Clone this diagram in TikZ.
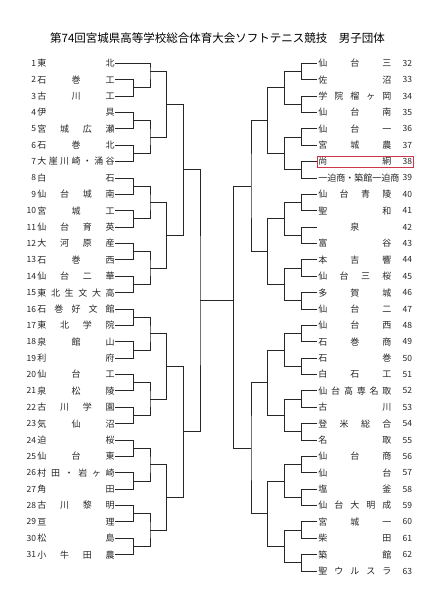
\documentclass[tikz,border=0pt]{standalone}
\usepackage{fontspec}
\newfontfamily\jp{Noto Sans CJK JP}
\usetikzlibrary{calc}
\definecolor{hlred}{RGB}{205,55,75}
\newcommand\mt[5]{%
  \path let \p1=(#2),\p2=(#3) in coordinate (#1) at (#4pt,{\y1+(\y2-\y1)*#5});
  \draw[bline] (#2) -| (#1) |- (#3);}
\begin{document}
\begin{tikzpicture}[x=1pt,y=-1pt,
  bline/.style={draw=black!85,line width=0.9pt},
  tname/.style={font=\jp\fontsize{9}{9}\selectfont,text=black!85,inner sep=0pt,anchor=west},
  tnum/.style={font=\jp\fontsize{8.5}{9}\selectfont,text=black!85,inner sep=0pt},
  ttl/.style={font=\jp\fontsize{11.5}{12}\selectfont,text=black,inner sep=0pt},
  hlbox/.style={draw=hlred,line width=0.8pt,minimum width=96pt,minimum height=11pt,inner sep=0pt}]
\useasboundingbox (0,0) rectangle (435,615);
\node[ttl] (T) at (217.5,38.3) {第74回宮城県高等学校総合体育大会ソフトテニス競技　男子団体};
% left teams
\foreach \n/\t in {1/東\hfil 北, 2/石\hfil 巻\hfil 工, 3/古\hfil 川\hfil 工, 4/伊\hfil 具,
  5/宮\hfil 城\hfil 広\hfil 瀬, 6/石\hfil 巻\hfil 北, 7/大\hfil 崖\hfil 川\hfil 崎\hfil ・\hfil 涌\hfil 谷,
  8/白\hfil 石, 9/仙\hfil 台\hfil 城\hfil 南, 10/宮\hfil 城\hfil 工, 11/仙\hfil 台\hfil 育\hfil 英,
  12/大\hfil 河\hfil 原\hfil 産, 13/石\hfil 巻\hfil 西, 14/仙\hfil 台\hfil 二\hfil 華,
  15/東\hfil 北\hfil 生\hfil 文\hfil 大\hfil 高, 16/石\hfil 巻\hfil 好\hfil 文\hfil 館,
  17/東\hfil 北\hfil 学\hfil 院, 18/泉\hfil 館\hfil 山, 19/利\hfil 府, 20/仙\hfil 台\hfil 工,
  21/泉\hfil 松\hfil 陵, 22/古\hfil 川\hfil 学\hfil 園, 23/気\hfil 仙\hfil 沼, 24/迫\hfil 桜,
  25/仙\hfil 台\hfil 東, 26/村\hfil 田\hfil ・\hfil 岩\hfil ヶ\hfil 崎, 27/角\hfil 田,
  28/古\hfil 川\hfil 黎\hfil 明, 29/亘\hfil 理, 30/松\hfil 島, 31/小\hfil 牛\hfil 田\hfil 農} {
  \pgfmathsetmacro\yy{63.3+(\n-1)*16.38}
  \node[tnum,anchor=east] (Ln\n) at (36.2,\yy) {\n};
  \node[tname] (L\n) at (37.2,\yy) {\makebox[77.3pt][s]{\t}};
  \coordinate (l\n) at (115,\yy);
}
% right teams
\foreach \n/\t in {32/仙\hfil 台\hfil 三, 33/佐\hfil 沼, 34/学\hfil 院\hfil 榴\hfil ヶ\hfil 岡,
  35/仙\hfil 台\hfil 南, 36/仙\hfil 台\hfil 一, 37/宮\hfil 城\hfil 農, 38/尚\hfil 絅,
  39/一迫商・築館一迫商, 40/仙\hfil 台\hfil 青\hfil 陵, 41/聖\hfil 和, 42/\hfil 泉\hfil,
  43/富\hfil 谷, 44/本\hfil 吉\hfil 響, 45/仙\hfil 台\hfil 三\hfil 桜, 46/多\hfil 賀\hfil 城,
  47/仙\hfil 台\hfil 二, 48/仙\hfil 台\hfil 西, 49/石\hfil 巻\hfil 商, 50/石\hfil 巻,
  51/白\hfil 石\hfil 工, 52/仙\hfil 台\hfil 高\hfil 専\hfil 名\hfil 取, 53/古\hfil 川,
  54/登\hfil 米\hfil 総\hfil 合, 55/名\hfil 取, 56/仙\hfil 台\hfil 商, 57/仙\hfil 台,
  58/塩\hfil 釜, 59/仙\hfil 台\hfil 大\hfil 明\hfil 成, 60/宮\hfil 城\hfil 一, 61/柴\hfil 田,
  62/築\hfil 館, 63/聖\hfil ウ\hfil ル\hfil ス\hfil ラ} {
  \pgfmathsetmacro\yy{63.3+(\n-32)*16.38}
  \node[tname] (R\n) at (318.2,\yy) {\makebox[73pt][s]{\t}};
  \node[tnum,anchor=west] (Rn\n) at (402.5,\yy) {\n};
  \coordinate (r\n) at (317,\yy);
}
\node[hlbox] (HL) at (365.3,161.6) {};
% left bracket
\foreach \a/\b in {2/3,4/5,6/7,8/9,10/11,12/13,14/15,16/17,18/19,20/21,22/23,24/25,26/27,28/29,30/31}
  {\mt{m\a}{l\a}{l\b}{133.3}{0.5}}
\mt{n1}{l1}{m2}{150}{0.33}
\foreach \a/\b in {4/6,8/10,12/14,16/18,20/22,24/26,28/30}
  {\mt{n\a}{m\a}{m\b}{150}{0.5}}
\foreach \a/\b in {1/4,8/12,16/20,24/28}
  {\mt{o\a}{n\a}{n\b}{166.7}{0.5}}
\mt{p1}{o1}{o8}{183.3}{0.5}
\mt{p16}{o16}{o24}{183.3}{0.5}
\mt{q1}{p1}{p16}{200}{0.5}
% right bracket
\foreach \a/\b in {32/33,34/35,36/37,38/39,40/41,42/43,44/45,46/47,48/49,50/51,52/53,54/55,56/57,58/59,60/61,62/63}
  {\mt{m\a}{r\a}{r\b}{301.7}{0.5}}
\foreach \a/\b in {32/34,36/38,40/42,44/46,48/50,52/54,56/58,60/62}
  {\mt{n\a}{m\a}{m\b}{284.3}{0.5}}
\foreach \a/\b in {32/36,40/44,48/52,56/60}
  {\mt{o\a}{n\a}{n\b}{267.7}{0.5}}
\mt{p32}{o32}{o40}{251}{0.5}
\mt{p48}{o48}{o56}{251}{0.5}
\mt{q32}{p32}{p48}{233.3}{0.5}
\draw[bline] (q1) -- (q1 -| q32);
\end{tikzpicture}
\end{document}
